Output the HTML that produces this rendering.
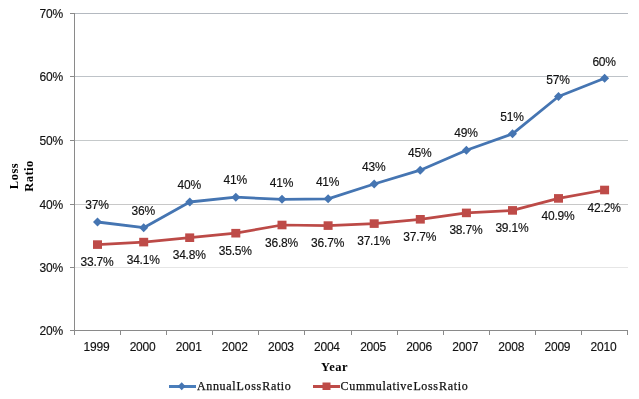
<!DOCTYPE html>
<html><head><meta charset="utf-8"><style>
html,body{margin:0;padding:0;background:#fff;}
svg{display:block;will-change:transform;}
.ax{font-family:"Liberation Sans",sans-serif;font-size:12px;fill:#111;stroke:#111;stroke-width:0.15px;letter-spacing:-0.2px;}
.dl{font-family:"Liberation Sans",sans-serif;font-size:12px;fill:#111;stroke:#111;stroke-width:0.15px;letter-spacing:-0.2px;}
.tt{font-family:"Liberation Serif",serif;font-size:12.5px;font-weight:bold;fill:#000;letter-spacing:0.5px;}
.lg{font-family:"Liberation Serif",serif;font-size:12px;fill:#111;stroke:#111;stroke-width:0.25px;letter-spacing:0.64px;word-spacing:-3.2px;}
</style></head><body>
<svg width="639" height="399" viewBox="0 0 639 399">
<rect width="639" height="399" fill="#fff"/>
<line x1="74" y1="13.5" x2="628" y2="13.5" stroke="#B4B9C0" stroke-width="1"/>
<line x1="74" y1="76.5" x2="628" y2="76.5" stroke="#BEC3C8" stroke-width="1"/>
<line x1="74" y1="140.5" x2="628" y2="140.5" stroke="#C5C9CA" stroke-width="1"/>
<line x1="74" y1="204.5" x2="628" y2="204.5" stroke="#C8C8C8" stroke-width="1"/>
<line x1="74" y1="267.5" x2="628" y2="267.5" stroke="#E6E6E6" stroke-width="1"/>
<line x1="74.5" y1="13" x2="74.5" y2="335" stroke="#8A8A8A" stroke-width="1"/>
<line x1="70" y1="330.5" x2="628" y2="330.5" stroke="#8A8A8A" stroke-width="1"/>
<line x1="70" y1="13.5" x2="75" y2="13.5" stroke="#8A8A8A" stroke-width="1"/>
<line x1="70" y1="76.5" x2="75" y2="76.5" stroke="#8A8A8A" stroke-width="1"/>
<line x1="70" y1="140.5" x2="75" y2="140.5" stroke="#8A8A8A" stroke-width="1"/>
<line x1="70" y1="204.5" x2="75" y2="204.5" stroke="#8A8A8A" stroke-width="1"/>
<line x1="70" y1="267.5" x2="75" y2="267.5" stroke="#8A8A8A" stroke-width="1"/>
<line x1="70" y1="330.5" x2="75" y2="330.5" stroke="#8A8A8A" stroke-width="1"/>
<line x1="74.5" y1="330" x2="74.5" y2="335" stroke="#8A8A8A" stroke-width="1"/>
<line x1="120.5" y1="330" x2="120.5" y2="335" stroke="#8A8A8A" stroke-width="1"/>
<line x1="166.5" y1="330" x2="166.5" y2="335" stroke="#8A8A8A" stroke-width="1"/>
<line x1="212.5" y1="330" x2="212.5" y2="335" stroke="#8A8A8A" stroke-width="1"/>
<line x1="258.5" y1="330" x2="258.5" y2="335" stroke="#8A8A8A" stroke-width="1"/>
<line x1="304.5" y1="330" x2="304.5" y2="335" stroke="#8A8A8A" stroke-width="1"/>
<line x1="351.5" y1="330" x2="351.5" y2="335" stroke="#8A8A8A" stroke-width="1"/>
<line x1="397.5" y1="330" x2="397.5" y2="335" stroke="#8A8A8A" stroke-width="1"/>
<line x1="443.5" y1="330" x2="443.5" y2="335" stroke="#8A8A8A" stroke-width="1"/>
<line x1="489.5" y1="330" x2="489.5" y2="335" stroke="#8A8A8A" stroke-width="1"/>
<line x1="535.5" y1="330" x2="535.5" y2="335" stroke="#8A8A8A" stroke-width="1"/>
<line x1="581.5" y1="330" x2="581.5" y2="335" stroke="#8A8A8A" stroke-width="1"/>
<line x1="627.5" y1="330" x2="627.5" y2="335" stroke="#8A8A8A" stroke-width="1"/>
<text x="63" y="17.9" class="ax" text-anchor="end">70%</text>
<text x="63" y="80.9" class="ax" text-anchor="end">60%</text>
<text x="63" y="144.9" class="ax" text-anchor="end">50%</text>
<text x="63" y="208.9" class="ax" text-anchor="end">40%</text>
<text x="63" y="271.9" class="ax" text-anchor="end">30%</text>
<text x="63" y="334.9" class="ax" text-anchor="end">20%</text>
<text x="96.5" y="350.5" class="ax" text-anchor="middle">1999</text>
<text x="142.6" y="350.5" class="ax" text-anchor="middle">2000</text>
<text x="188.7" y="350.5" class="ax" text-anchor="middle">2001</text>
<text x="234.8" y="350.5" class="ax" text-anchor="middle">2002</text>
<text x="280.9" y="350.5" class="ax" text-anchor="middle">2003</text>
<text x="326.9" y="350.5" class="ax" text-anchor="middle">2004</text>
<text x="373.1" y="350.5" class="ax" text-anchor="middle">2005</text>
<text x="419.1" y="350.5" class="ax" text-anchor="middle">2006</text>
<text x="465.2" y="350.5" class="ax" text-anchor="middle">2007</text>
<text x="511.3" y="350.5" class="ax" text-anchor="middle">2008</text>
<text x="557.4" y="350.5" class="ax" text-anchor="middle">2009</text>
<text x="603.5" y="350.5" class="ax" text-anchor="middle">2010</text>
<polyline points="97.5,244.6 143.7,242.1 189.8,237.7 235.8,233.2 282.0,225.0 328.1,225.6 374.2,223.6 420.2,219.3 466.4,212.9 512.5,210.4 558.5,198.4 604.6,190.0" fill="none" stroke="#BC4A47" stroke-width="2.7" stroke-linejoin="round"/>
<polyline points="97.5,222.0 143.7,227.7 189.8,202.0 235.8,197.2 282.0,199.3 328.1,198.8 374.2,184.0 420.2,170.2 466.4,150.2 512.5,133.8 558.5,96.5 604.6,78.3" fill="none" stroke="#4575B2" stroke-width="2.8" stroke-linejoin="round"/>
<path d="M97.5 217.5L102.0 222.0L97.5 226.5L93.0 222.0Z" fill="#4575B2"/>
<rect x="93.0" y="240.3" width="9" height="8.6" fill="#BE4B48"/>
<path d="M143.7 223.2L148.2 227.7L143.7 232.2L139.2 227.7Z" fill="#4575B2"/>
<rect x="139.2" y="237.8" width="9" height="8.6" fill="#BE4B48"/>
<path d="M189.8 197.5L194.2 202.0L189.8 206.5L185.2 202.0Z" fill="#4575B2"/>
<rect x="185.2" y="233.4" width="9" height="8.6" fill="#BE4B48"/>
<path d="M235.8 192.7L240.3 197.2L235.8 201.7L231.3 197.2Z" fill="#4575B2"/>
<rect x="231.3" y="228.9" width="9" height="8.6" fill="#BE4B48"/>
<path d="M282.0 194.8L286.5 199.3L282.0 203.8L277.5 199.3Z" fill="#4575B2"/>
<rect x="277.5" y="220.7" width="9" height="8.6" fill="#BE4B48"/>
<path d="M328.1 194.3L332.6 198.8L328.1 203.3L323.6 198.8Z" fill="#4575B2"/>
<rect x="323.6" y="221.3" width="9" height="8.6" fill="#BE4B48"/>
<path d="M374.2 179.5L378.7 184.0L374.2 188.5L369.7 184.0Z" fill="#4575B2"/>
<rect x="369.7" y="219.3" width="9" height="8.6" fill="#BE4B48"/>
<path d="M420.2 165.7L424.8 170.2L420.2 174.7L415.8 170.2Z" fill="#4575B2"/>
<rect x="415.8" y="215.0" width="9" height="8.6" fill="#BE4B48"/>
<path d="M466.4 145.7L470.9 150.2L466.4 154.7L461.9 150.2Z" fill="#4575B2"/>
<rect x="461.9" y="208.6" width="9" height="8.6" fill="#BE4B48"/>
<path d="M512.5 129.3L517.0 133.8L512.5 138.3L508.0 133.8Z" fill="#4575B2"/>
<rect x="508.0" y="206.1" width="9" height="8.6" fill="#BE4B48"/>
<path d="M558.5 92.0L563.0 96.5L558.5 101.0L554.0 96.5Z" fill="#4575B2"/>
<rect x="554.0" y="194.1" width="9" height="8.6" fill="#BE4B48"/>
<path d="M604.6 73.8L609.1 78.3L604.6 82.8L600.1 78.3Z" fill="#4575B2"/>
<rect x="600.1" y="185.7" width="9" height="8.6" fill="#BE4B48"/>
<text x="97.0" y="209.2" class="dl" text-anchor="middle">37%</text>
<text x="97.0" y="266.1" class="dl" text-anchor="middle">33.7%</text>
<text x="143.2" y="214.9" class="dl" text-anchor="middle">36%</text>
<text x="143.2" y="263.6" class="dl" text-anchor="middle">34.1%</text>
<text x="189.2" y="189.2" class="dl" text-anchor="middle">40%</text>
<text x="189.2" y="259.2" class="dl" text-anchor="middle">34.8%</text>
<text x="235.3" y="184.4" class="dl" text-anchor="middle">41%</text>
<text x="235.3" y="254.7" class="dl" text-anchor="middle">35.5%</text>
<text x="281.5" y="186.5" class="dl" text-anchor="middle">41%</text>
<text x="281.5" y="246.5" class="dl" text-anchor="middle">36.8%</text>
<text x="327.6" y="186.0" class="dl" text-anchor="middle">41%</text>
<text x="327.6" y="247.1" class="dl" text-anchor="middle">36.7%</text>
<text x="373.7" y="171.2" class="dl" text-anchor="middle">43%</text>
<text x="373.7" y="245.1" class="dl" text-anchor="middle">37.1%</text>
<text x="419.8" y="157.4" class="dl" text-anchor="middle">45%</text>
<text x="419.8" y="240.8" class="dl" text-anchor="middle">37.7%</text>
<text x="465.9" y="137.4" class="dl" text-anchor="middle">49%</text>
<text x="465.9" y="234.4" class="dl" text-anchor="middle">38.7%</text>
<text x="511.9" y="121.0" class="dl" text-anchor="middle">51%</text>
<text x="511.9" y="231.9" class="dl" text-anchor="middle">39.1%</text>
<text x="558.0" y="83.7" class="dl" text-anchor="middle">57%</text>
<text x="558.0" y="219.9" class="dl" text-anchor="middle">40.9%</text>
<text x="604.1" y="65.5" class="dl" text-anchor="middle">60%</text>
<text x="604.1" y="211.5" class="dl" text-anchor="middle">42.2%</text>
<text x="334.5" y="370.5" class="tt" text-anchor="middle">Year</text>
<g transform="translate(18,176) rotate(-90)"><text x="0" y="0" class="tt" text-anchor="middle">Loss</text></g>
<g transform="translate(32.6,176) rotate(-90)"><text x="0" y="0" class="tt" text-anchor="middle">Ratio</text></g>
<line x1="169" y1="386.5" x2="196" y2="386.5" stroke="#4A7EBB" stroke-width="3"/>
<path d="M181.7 382.2L185.6 386.3L181.7 390.2L177.8 386.3Z" fill="#4575B2"/>
<text x="197" y="390" class="lg">Annual Loss Ratio</text>
<line x1="313" y1="386.5" x2="340" y2="386.5" stroke="#BE4B48" stroke-width="3"/>
<rect x="322.5" y="382.5" width="8" height="7.5" fill="#BE4B48"/>
<text x="340.6" y="390" class="lg">Cummulative Loss Ratio</text>
</svg>
</body></html>
